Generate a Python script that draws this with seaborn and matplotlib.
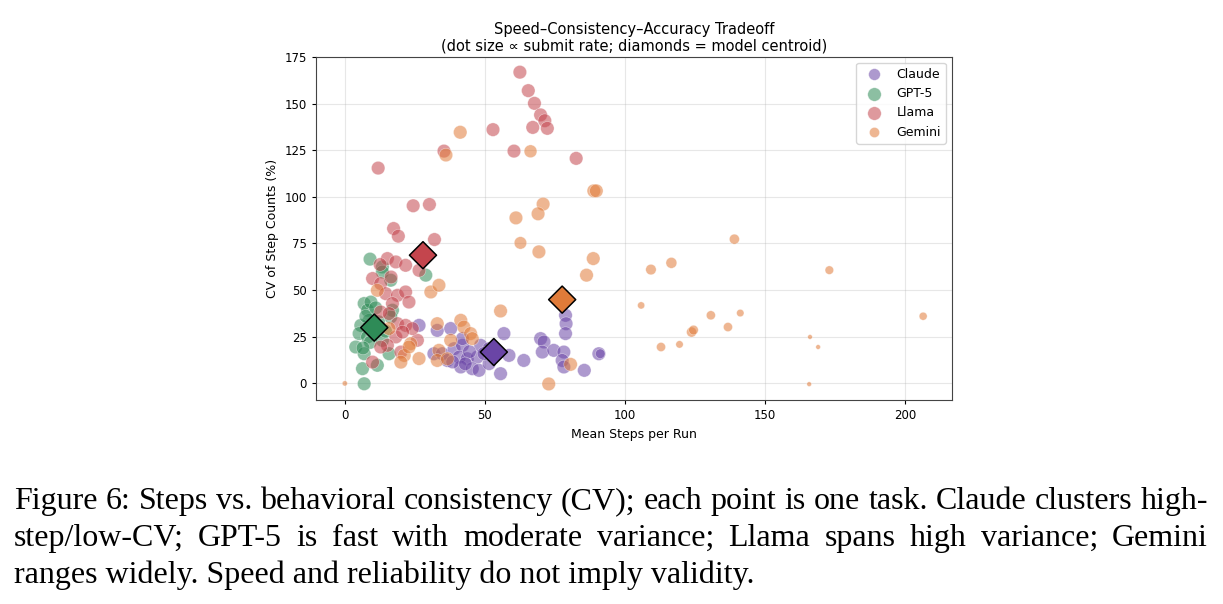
import numpy as np
import pandas as pd
import seaborn as sns
import matplotlib.pyplot as plt

# ---- data ----
claude_x = [26.5, 33.0, 37.8, 31.8, 34.8, 36.6, 39.0, 42.0, 40.8, 43.7, 47.3, 48.5, 51.5, 41.4, 45.5,
            47.9, 51.5, 55.6, 56.8, 58.6, 63.9, 69.9, 71.1, 70.5, 74.6, 78.2, 78.8, 79.0, 78.8, 77.6,
            78.2, 90.7, 91.2, 85.5, 49.7, 44.5, 38.5, 43.0, 42.0]
claude_y = [31.1, 28.4, 29.4, 15.9, 15.9, 12.3, 18.6, 20.4, 14.1, 13.2, 14.1, 20.4, 18.6, 8.8, 7.9,
            7.0, 10.6, 5.2, 26.7, 15.0, 12.3, 24.0, 22.2, 16.8, 17.7, 16.8, 36.5, 32.0, 26.7, 12.3,
            8.8, 15.9, 15.9, 7.0, 16.0, 17.0, 11.5, 10.5, 24.0]
claude_rate = [1.0] * 32 + [0.5] + [1.0] * 6

gpt_x = [9.0, 13.4, 13.4, 16.4, 28.9, 6.9, 8.1, 9.3, 17.0, 16.4, 8.7, 5.7, 5.1, 8.1, 9.1, 3.9, 6.9,
         6.3, 6.9, 11.6, 15.8, 13.4, 7.5, 12.0, 14.5, 6.5, 11.0]
gpt_y = [66.6, 62.4, 59.7, 55.3, 58.0, 42.8, 39.2, 43.6, 39.2, 35.6, 33.8, 31.1, 26.7, 24.9, 22.0,
         19.5, 15.9, 7.9, -0.2, 9.7, 15.9, 23.1, 36.0, 33.0, 28.0, 19.0, 40.5]
gpt_rate = [1.0] * 27

llama_x = [62.5, 65.5, 67.7, 69.9, 71.4, 67.1, 72.3, 52.9, 35.4, 60.4, 82.6, 11.9, 24.4, 30.2, 17.4,
           19.1, 32.0, 15.2, 18.2, 21.7, 12.6, 26.5, 9.9, 12.8, 14.6, 18.8, 21.7, 22.9, 17.0, 12.8,
           15.8, 18.8, 21.7, 18.2, 15.2, 12.8, 25.9, 9.9, 20.0, 24.1, 20.6, 16.5]
llama_y = [166.8, 156.9, 150.1, 143.9, 140.8, 137.2, 136.7, 136.0, 124.5, 124.5, 120.6, 115.4, 95.2,
           95.9, 83.0, 78.9, 77.1, 66.9, 65.1, 63.3, 63.7, 60.6, 56.2, 53.5, 48.1, 47.2, 49.0, 43.6,
           42.8, 38.3, 37.4, 32.0, 31.1, 24.9, 20.4, 19.5, 23.1, 11.4, 16.8, 29.4, 27.5, 57.0]
llama_rate = [1.0] * 42

gemini_x = [41.2, 36.1, 66.3, 88.9, 89.8, 70.8, 69.0, 61.1, 62.7, 69.3, 88.7, 86.3, 11.6, 30.7, 33.6,
            55.6, 33.0, 41.4, 42.5, 44.9, 45.5, 37.8, 33.6, 33.0, 36.6, 26.5, 23.5, 21.2, 20.0, 22.9,
            15.8, 80.6, 72.8, 0.0, 105.8, 109.3, 116.6, 139.1, 173.0, 130.7, 141.2, 136.8, 123.8,
            124.5, 112.9, 119.5, 206.5, 166.1, 169.0, 165.8]
gemini_y = [134.6, 122.4, 124.4, 103.2, 103.2, 96.1, 90.9, 88.7, 75.3, 70.5, 66.9, 58.0, 49.9, 49.0,
            52.6, 38.8, 32.0, 33.8, 30.2, 26.7, 24.0, 23.1, 17.7, 12.3, 13.2, 13.3, 21.3, 15.0, 11.4,
            19.5, 29.4, 10.2, -0.3, 0.0, 41.8, 61.0, 64.6, 77.3, 60.7, 36.5, 37.7, 30.2, 27.5, 28.6,
            19.5, 20.9, 36.0, 24.9, 19.5, -0.4]
gemini_rate = [1.0, 1.0, 0.9, 1.0, 1.0, 1.0, 1.0, 1.0, 0.85, 1.0, 1.0, 1.0, 1.0, 1.0, 1.0,
               1.0, 1.0, 1.0, 1.0, 1.0, 1.0, 1.0, 1.0, 1.0, 1.0, 1.0, 1.0, 1.0, 1.0, 1.0,
               1.0, 1.0, 1.0, 0.15, 0.28, 0.6, 0.65, 0.55, 0.4, 0.45, 0.3, 0.45, 0.55,
               0.5, 0.45, 0.3, 0.35, 0.12, 0.12, 0.12]

models = ["Claude", "GPT-5", "Llama", "Gemini"]
centroid_x = [53.2, 10.5, 27.9, 77.6]
centroid_y = [16.8, 29.9, 68.7, 44.9]

colors = {"Claude": "#6a45a6", "GPT-5": "#2e8b57", "Llama": "#c4454d", "Gemini": "#e07b39"}

caption_lines = [
    "Figure 6: Steps vs. behavioral consistency (CV); each point is one task. Claude clusters high-",
    "step/low-CV; GPT-5 is fast with moderate variance; Llama spans high variance; Gemini",
    "ranges widely. Speed and reliability do not imply validity.",
]

W, H = 1223, 604
fig = plt.figure(figsize=(W / 100, H / 100), dpi=100)
ax = fig.add_axes([316 / W, 1 - 400 / H, (952 - 316) / W, (400 - 56.5) / H])

groups = [("Claude", claude_x, claude_y, claude_rate),
          ("GPT-5", gpt_x, gpt_y, gpt_rate),
          ("Llama", llama_x, llama_y, llama_rate),
          ("Gemini", gemini_x, gemini_y, gemini_rate)]
for name, xs, ys, rs in groups:
    sns.scatterplot(x=xs, y=ys, s=np.array(rs) * 95, color=colors[name], alpha=0.55,
                    edgecolor="white", linewidth=0.4, label=name, ax=ax, zorder=3)

cent = pd.DataFrame({"x": centroid_x, "y": centroid_y, "model": models})
sns.scatterplot(data=cent, x="x", y="y", hue="model", palette=colors, marker="D", s=190,
                edgecolor="black", linewidth=1.1, legend=False, ax=ax, zorder=5)

ax.set_xlim(-10.3, 216.8)
ax.set_ylim(-8.9, 175.2)
ax.set_xticks([0, 50, 100, 150, 200])
ax.set_yticks([0, 25, 50, 75, 100, 125, 150, 175])
ax.grid(True, alpha=0.3)
ax.tick_params(labelsize=8.5, length=3)
ax.set_xlabel("Mean Steps per Run", fontsize=9)
ax.set_ylabel("CV of Step Counts (%)", fontsize=9)
ax.set_title("Speed\u2013Consistency\u2013Accuracy Tradeoff\n(dot size \u221d submit rate; diamonds = model centroid)",
             fontsize=10.5, pad=4)
for sp in ax.spines.values():
    sp.set_color("#444444")
ax.legend(loc="upper right", fontsize=9)

# caption, justified by hand for the first two lines
renderer = fig.canvas.get_renderer()
left, right = 14, 1208
baselines = [509, 546, 583]
cap_font = dict(family="Liberation Serif", fontsize=23)
for i, line in enumerate(caption_lines):
    y = 1 - baselines[i] / H
    if i == len(caption_lines) - 1:
        fig.text(left / W, y, line, va="baseline", ha="left", **cap_font)
        continue
    words = line.split(" ")
    texts = [fig.text(0, y, w_, va="baseline", ha="left", **cap_font) for w_ in words]
    widths = [t.get_window_extent(renderer).width for t in texts]
    gap = (right - left - sum(widths)) / (len(words) - 1)
    xpos = left
    for t, wd in zip(texts, widths):
        t.set_x(xpos / W)
        xpos += wd + gap

fig.savefig("out.png", dpi=100)
